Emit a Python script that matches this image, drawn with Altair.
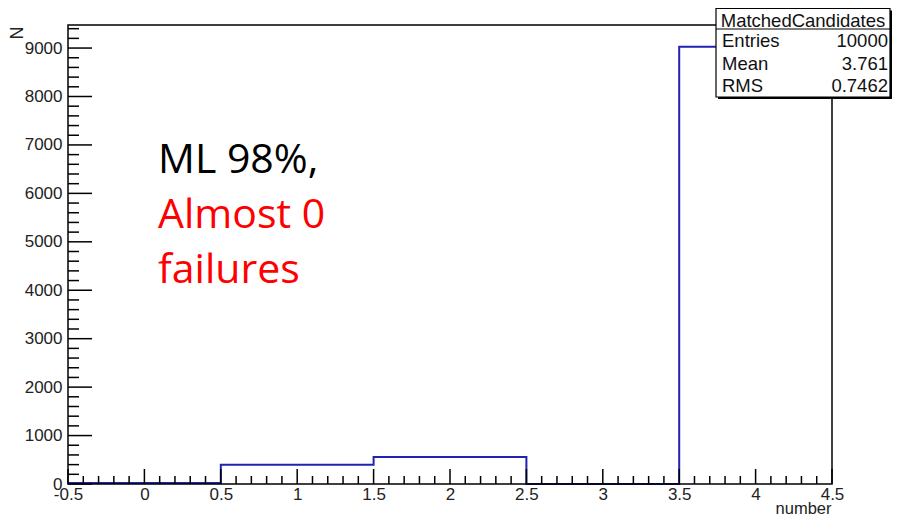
import altair as alt
import pandas as pd

# ---- data ----
bin_edges = [-0.5, 0.5, 1.5, 2.5, 3.5, 4.5]
counts = [20, 400, 555, 0, 9025]
x_major = [-0.5, 0, 0.5, 1, 1.5, 2, 2.5, 3, 3.5, 4, 4.5]
y_major = [0, 1000, 2000, 3000, 4000, 5000, 6000, 7000, 8000, 9000]
x_domain = [-0.5, 4.5]
y_domain = [0, 9476]
x_title = "number"
y_title = "N"
stats_title = "MatchedCandidates"
stats_labels = ["Entries", "Mean", "RMS"]
stats_values = ["10000", "3.761", "0.7462"]
note_lines = ["ML 98%,", "Almost 0", "failures"]
note_colors = ["#000000", "#ff0000", "#ff0000"]

# ---- layout ----
W, H = 764, 459
FONT = "Liberation Sans"
LINE_BLUE = "#2222b0"
TXT = "#222222"

x_minor = [round(-0.5 + 0.1 * i, 1) for i in range(51)]
x_minor = [v for v in x_minor if all(abs(v - m) > 1e-9 for m in x_major)]
y_minor = [v for v in range(0, 9401, 200) if v % 1000 != 0]

xscale = alt.Scale(domain=x_domain, nice=False, zero=False)
yscale = alt.Scale(domain=y_domain, nice=False, zero=False)

xaxis = alt.Axis(
    values=x_major, labelExpr="datum.value + ''", tickSize=0, domain=False,
    grid=False, labelFontSize=17, labelFont=FONT, labelColor=TXT,
    labelPadding=2, labelFlush=False, labelOverlap=False,
    title=x_title, titleFont=FONT, titleFontSize=16.5, titleFontWeight="normal",
    titleColor=TXT, titleAnchor="end", titleAlign="right",
    titleX=W - 1, titleY=29, titleBaseline="alphabetic")
yaxis = alt.Axis(
    values=y_major, labelExpr="datum.value + ''", tickSize=0, domain=False,
    grid=False, labelFontSize=17, labelFont=FONT, labelColor=TXT,
    labelPadding=6, labelFlush=False, labelOverlap=False,
    title=y_title, titleFont=FONT, titleFontSize=18, titleFontWeight="normal",
    titleColor=TXT, titleAngle=270, titleAlign="right",
    titleBaseline="middle", titleX=-51, titleY=1)

hist_df = pd.DataFrame({"x": bin_edges, "y": counts + [counts[-1]]})

hist = alt.Chart(hist_df).mark_line(
    interpolate="step-after", color=LINE_BLUE, strokeWidth=2
).encode(
    x=alt.X("x:Q", scale=xscale, axis=xaxis),
    y=alt.Y("y:Q", scale=yscale, axis=yaxis),
)

def xticks(vals, length):
    return alt.Chart(pd.DataFrame({"x": vals})).mark_rule(
        color="black", strokeWidth=1.5
    ).encode(
        x=alt.X("x:Q", scale=xscale, axis=xaxis),
        y=alt.value(H), y2=alt.value(H - length),
    )

def yticks(vals, length):
    return alt.Chart(pd.DataFrame({"y": vals})).mark_rule(
        color="black", strokeWidth=1.5
    ).encode(
        y=alt.Y("y:Q", scale=yscale, axis=yaxis),
        x=alt.value(0), x2=alt.value(length),
    )

one = pd.DataFrame({"a": [0]})

frame = alt.Chart(one).mark_rect(
    filled=False, stroke="black", strokeWidth=1.5
).encode(x=alt.value(0), x2=alt.value(W), y=alt.value(0), y2=alt.value(H))

# stats box
bx0, bx1, by0, by1 = 648, 822, -16.5, 72
shadow = alt.Chart(one).mark_rect(color="black").encode(
    x=alt.value(bx0 + 2), x2=alt.value(bx1 + 2), y=alt.value(by0 + 2), y2=alt.value(by1 + 2))
box = alt.Chart(one).mark_rect(fill="white", stroke="black", strokeWidth=1.2).encode(
    x=alt.value(bx0), x2=alt.value(bx1), y=alt.value(by0), y2=alt.value(by1))
sep = alt.Chart(one).mark_rule(color="black", strokeWidth=1.2).encode(
    x=alt.value(bx0), x2=alt.value(bx1), y=alt.value(4))

stat_layers = [
    alt.Chart(one).mark_text(
        text=stats_title, font=FONT, fontSize=18.5, align="center",
        baseline="alphabetic", color="#111111"
    ).encode(x=alt.value((bx0 + bx1) / 2), y=alt.value(2))
]
row_y = [22, 45, 67]
for lab, val, yy in zip(stats_labels, stats_values, row_y):
    stat_layers.append(alt.Chart(one).mark_text(
        text=lab, font=FONT, fontSize=18.5, align="left", baseline="alphabetic",
        color="#111111").encode(x=alt.value(bx0 + 6), y=alt.value(yy)))
    stat_layers.append(alt.Chart(one).mark_text(
        text=val, font=FONT, fontSize=18.5, align="right", baseline="alphabetic",
        color="#111111").encode(x=alt.value(bx1 - 2), y=alt.value(yy)))

note_y = [148, 203, 258]
note_layers = [
    alt.Chart(one).mark_text(
        text=t, font="Open Sans", fontSize=41, align="left", baseline="alphabetic", color=c
    ).encode(x=alt.value(90), y=alt.value(yy))
    for t, c, yy in zip(note_lines, note_colors, note_y)
]

chart = alt.layer(
    hist,
    xticks(x_major, 15), xticks(x_minor, 8),
    yticks(y_major, 24), yticks(y_minor, 11),
    frame, shadow, box, sep,
    *stat_layers, *note_layers,
).properties(
    width=W, height=H,
    autosize=alt.AutoSizeParams(type="none"),
    padding={"left": 60, "top": 17, "right": 60, "bottom": 30},
    background="white",
).configure_view(stroke=None)

chart.save("out.html", embed_options={"renderer": "svg", "actions": False})
